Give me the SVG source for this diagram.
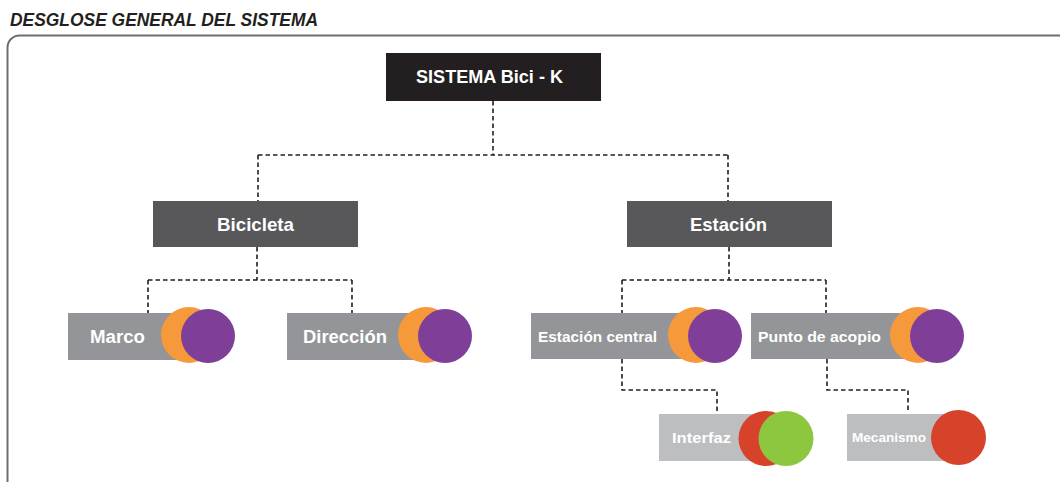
<svg xmlns="http://www.w3.org/2000/svg" width="1060" height="482" viewBox="0 0 1060 482">
  <style>
    .title { font-family: "Liberation Sans", Arial, sans-serif; font-weight: bold; font-style: italic; font-size: 19px; fill: #231f20; }
    .lbl { font-family: "Liberation Sans", Arial, sans-serif; font-weight: bold; fill: #ffffff; text-anchor: start; }
    .root { fill: #231f20; }
    .lvl1 { fill: #58585a; }
    .lvl2 { fill: #939598; }
    .lvl3 { fill: #bcbec0; }
    .orange { fill: #f6993b; }
    .purple { fill: #7f3f98; }
    .red { fill: #d7432a; }
    .green { fill: #8dc63f; }
    .link { fill: none; stroke: #231f20; stroke-width: 1.6; stroke-dasharray: 4.5 3; }
  </style>

  <rect width="1060" height="482" fill="#ffffff"/>

  <!-- heading and outer frame -->
  <text class="title" x="10" y="26" textLength="308" lengthAdjust="spacingAndGlyphs">DESGLOSE GENERAL DEL SISTEMA</text>
  <rect x="7.5" y="35.5" width="1080" height="470" rx="12" fill="none" stroke="#6d6e71" stroke-width="2"/>

  <!-- connectors -->
  <g id="connectors">
    <path class="link" d="M493,101 V155 M258,155 H728 M258,155 V201 M728,155 V201"/>
    <path class="link" d="M257,247 V280 M148,280 H352 M148,280 V313 M352,280 V313"/>
    <path class="link" d="M729,247 V280 M622,280 H826 M622,280 V313 M826,280 V313"/>
    <path class="link" d="M622,359 V390 H717 V413"/>
    <path class="link" d="M827,359 V390 H908 V413"/>
  </g>

  <g id="sistema">
    <rect class="root" x="386" y="53" width="215" height="48"/>
    <text class="lbl" x="416" y="83" font-size="18" textLength="147" lengthAdjust="spacingAndGlyphs">SISTEMA Bici - K</text>
  </g>

  <g id="bicicleta">
    <rect class="lvl1" x="153" y="201" width="205" height="46"/>
    <text class="lbl" x="217" y="231" font-size="19" textLength="77" lengthAdjust="spacingAndGlyphs">Bicicleta</text>
  </g>

  <g id="estacion">
    <rect class="lvl1" x="627" y="201" width="205" height="46"/>
    <text class="lbl" x="690" y="231" font-size="19" textLength="77" lengthAdjust="spacingAndGlyphs">Estación</text>
  </g>

  <g id="marco">
    <rect class="lvl2" x="68" y="313" width="140" height="47"/>
    <circle class="orange" cx="189" cy="335" r="28"/>
    <circle class="purple" cx="208" cy="336" r="27"/>
    <text class="lbl" x="90" y="343" font-size="18" textLength="55" lengthAdjust="spacingAndGlyphs">Marco</text>
  </g>

  <g id="direccion">
    <rect class="lvl2" x="287" y="313" width="140" height="47"/>
    <circle class="orange" cx="426" cy="335" r="28"/>
    <circle class="purple" cx="445" cy="336" r="27"/>
    <text class="lbl" x="303" y="343" font-size="18" textLength="84" lengthAdjust="spacingAndGlyphs">Dirección</text>
  </g>

  <g id="estacion-central">
    <rect class="lvl2" x="531" y="313" width="175" height="46"/>
    <circle class="orange" cx="696" cy="335" r="28"/>
    <circle class="purple" cx="715" cy="336" r="27"/>
    <text class="lbl" x="538" y="342" font-size="15" textLength="119" lengthAdjust="spacingAndGlyphs">Estación central</text>
  </g>

  <g id="punto-de-acopio">
    <rect class="lvl2" x="751" y="313" width="175" height="46"/>
    <circle class="orange" cx="918" cy="335" r="28"/>
    <circle class="purple" cx="937" cy="336" r="27"/>
    <text class="lbl" x="758" y="342" font-size="15" textLength="123" lengthAdjust="spacingAndGlyphs">Punto de acopio</text>
  </g>

  <g id="interfaz">
    <rect class="lvl3" x="659" y="414" width="115" height="47"/>
    <circle class="red" cx="766" cy="438.5" r="27.5"/>
    <circle class="green" cx="786" cy="438.5" r="27.5"/>
    <text class="lbl" x="672" y="443" font-size="14.5" textLength="59" lengthAdjust="spacingAndGlyphs">Interfaz</text>
  </g>

  <g id="mecanismo">
    <rect class="lvl3" x="847" y="414" width="110" height="47"/>
    <circle class="red" cx="958.5" cy="437.5" r="27.5"/>
    <text class="lbl" x="852" y="442" font-size="12.5" textLength="74" lengthAdjust="spacingAndGlyphs">Mecanismo</text>
  </g>
</svg>
